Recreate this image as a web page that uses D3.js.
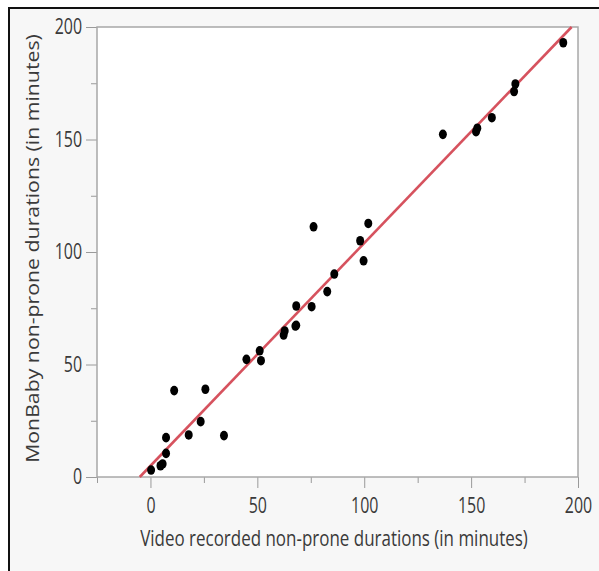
<!DOCTYPE html>
<html>
<head>
<meta charset="utf-8">
<script src="https://cdn.jsdelivr.net/npm/d3@7"></script>
<style>
  body { margin: 0; background: #fff; }
  text { font-family: "Open Sans", "Noto Sans", sans-serif; fill: #3a3a3a; }
</style>
</head>
<body>
<div id="chart"></div>
<script>
// video recorded vs MonBaby non-prone durations (minutes)
const videoMin = [0.3, 4.7, 5.7, 7.3, 7.3, 11.1, 17.9, 23.5, 25.7, 34.4,
  44.9, 51.1, 51.7, 62.3, 62.8, 67.8, 68.2, 68.2, 75.4, 76.3,
  82.7, 86, 98.1, 99.7, 101.9, 136.8, 152.3, 152.9, 159.7, 170.1,
  170.7, 193.1];
const monbabyMin = [3.1, 5, 5.8, 10.5, 17.5, 38.4, 18.7, 24.6, 39, 18.4,
  52.3, 56.1, 51.7, 63.1, 64.9, 67.1, 67.4, 76, 75.7, 111.2,
  82.4, 90.2, 105, 96.1, 112.7, 152.3, 153.5, 155, 159.7, 171.3,
  174.7, 193];
const fitIntercept = 4.95;
const fitSlope = 0.99;
const majorTicks = [0, 50, 100, 150, 200];
const minorTicksX = [-25, 25, 75, 125, 175];
const minorTicksY = [25, 75, 125, 175];
const xTitle = 'Video recorded non-prone durations (in minutes)';
const yTitle = 'MonBaby non-prone durations (in minutes)';

const width = 599, height = 571;
const plot = { left: 97, top: 27, right: 578, bottom: 477 };
const squeeze = 0.76;

const svg = d3.select('#chart').append('svg')
  .attr('width', width)
  .attr('height', height);

// outer frame
svg.append('rect')
  .attr('x', 9).attr('y', 8)
  .attr('width', 600).attr('height', 600)
  .attr('fill', '#f7f7f7')
  .attr('stroke', '#111')
  .attr('stroke-width', 2);

const x = d3.scaleLinear().domain([-25, 200]).range([plot.left, plot.right]);
const y = d3.scaleLinear().domain([0, 200]).range([plot.bottom, plot.top]);

svg.append('rect')
  .attr('x', plot.left).attr('y', plot.top)
  .attr('width', plot.right - plot.left)
  .attr('height', plot.bottom - plot.top)
  .attr('fill', '#fff');

// axes
const xMajor = svg.append('g')
  .attr('transform', `translate(0,${plot.bottom})`)
  .call(d3.axisBottom(x).tickValues(majorTicks).tickSize(11).tickFormat(d3.format('d')));
svg.append('g')
  .attr('transform', `translate(0,${plot.bottom})`)
  .call(d3.axisBottom(x).tickValues(minorTicksX).tickSize(6).tickFormat(''));
const yMajor = svg.append('g')
  .attr('transform', `translate(${plot.left},0)`)
  .call(d3.axisLeft(y).tickValues(majorTicks).tickSize(11).tickFormat(d3.format('d')));
svg.append('g')
  .attr('transform', `translate(${plot.left},0)`)
  .call(d3.axisLeft(y).tickValues(minorTicksY).tickSize(6).tickFormat(''));

svg.selectAll('.domain').remove();
svg.selectAll('.tick line').attr('stroke', '#9a9a9a');

xMajor.selectAll('.tick text')
  .attr('font-size', 21)
  .attr('font-family', null)
  .attr('fill', '#333')
  .attr('y', 36)
  .attr('dy', 0)
  .attr('transform', `scale(${squeeze},1)`);

yMajor.selectAll('.tick text')
  .attr('font-size', 21)
  .attr('font-family', null)
  .attr('fill', '#333')
  .attr('transform', `scale(${squeeze},1)`)
  .attr('x', -15 / squeeze);

// plot border
svg.append('rect')
  .attr('x', plot.left).attr('y', plot.top)
  .attr('width', plot.right - plot.left)
  .attr('height', plot.bottom - plot.top)
  .attr('fill', 'none')
  .attr('stroke', '#a8a8a8')
  .attr('stroke-width', 1.5);

// fit line
const g = svg.append('g');
g.append('line')
  .attr('x1', x(-fitIntercept / fitSlope)).attr('y1', y(0))
  .attr('x2', x((200 - fitIntercept) / fitSlope)).attr('y2', y(200))
  .attr('stroke', '#d6525e')
  .attr('stroke-width', 2.6);

g.selectAll('ellipse')
  .data(videoMin.map((v, i) => [v, monbabyMin[i]]))
  .enter()
  .append('ellipse')
  .attr('cx', d => x(d[0]))
  .attr('cy', d => y(d[1]))
  .attr('rx', 4)
  .attr('ry', 4.8)
  .attr('fill', '#000');

// axis titles, squeezed to the width they take in the picture
const xt = svg.append('text')
  .attr('text-anchor', 'middle')
  .attr('font-size', 21)
  .text(xTitle);
const xs = 388 / xt.node().getComputedTextLength();
xt.attr('transform', `translate(334,546) scale(${xs},1)`);

const yt = svg.append('text')
  .attr('text-anchor', 'middle')
  .attr('font-size', 21)
  .text(yTitle);
const ys = 429 / yt.node().getComputedTextLength();
yt.attr('transform', `translate(39,248.5) scale(0.9,1) rotate(-90) scale(${ys},1)`);
</script>
</body>
</html>
